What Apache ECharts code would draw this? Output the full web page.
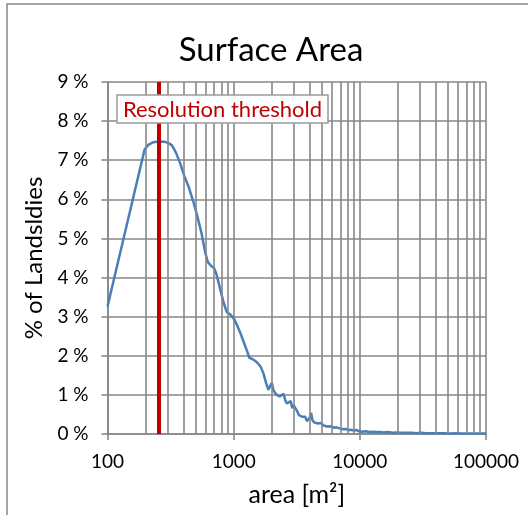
<!DOCTYPE html>
<html>
<head>
<meta charset="utf-8">
<script src="https://cdn.jsdelivr.net/npm/echarts@6/dist/echarts.min.js"></script>
<style>
  html, body { margin: 0; padding: 0; background: #fff; }
  #chart { width: 528px; height: 515px; }
</style>
</head>
<body>
<div id="chart"></div>
<script>
// Landslide surface-area distribution (share of landslides per area bin)
const areaBins = [
  100, 197, 212, 231, 256, 285, 304, 324, 348, 377, 411, 440, 478, 517, 555, 594, 623,
  661, 700, 728, 776, 834, 882, 930, 968, 1016, 1064, 1140, 1217, 1284, 1331, 1398,
  1465, 1541, 1636, 1722, 1808, 1884, 1941, 2008, 2065, 2141, 2226, 2321, 2406, 2482,
  2567, 2643, 2728, 2832, 2917, 2992, 3077, 3171, 3275, 3369, 3482, 3595, 3689, 3802,
  3915, 4018, 4112, 4206, 4337, 4469, 4610, 4750, 4938, 5126, 5314, 5502, 5690, 5877,
  6064, 6251, 6532, 6812, 7092, 7372, 7746, 8119, 8492, 8958, 9420, 9880, 10350,
  11100, 11850, 12700, 13600, 14500, 15400, 16800, 18200, 19600, 21400, 23300, 25600,
  27900, 30600, 33400, 37100, 41700, 46300, 51800, 58200, 64600, 73800, 83000, 92100, 100000
];
const landslidePct = [
  3.26, 7.28, 7.40, 7.46, 7.48, 7.47, 7.44, 7.38, 7.20, 6.92, 6.55, 6.32, 5.95, 5.55, 5.15, 4.65, 4.40,
  4.30, 4.24, 4.10, 3.75, 3.35, 3.12, 3.07, 3.01, 2.92, 2.78, 2.55, 2.30, 2.10, 1.95, 1.92,
  1.88, 1.82, 1.72, 1.55, 1.30, 1.13, 1.17, 1.31, 1.12, 1.04, 0.99, 0.96, 1.00, 1.03,
  0.86, 0.78, 0.82, 0.84, 0.66, 0.74, 0.66, 0.60, 0.49, 0.53, 0.44, 0.40, 0.44, 0.33,
  0.29, 0.42, 0.54, 0.36, 0.30, 0.33, 0.27, 0.26, 0.28, 0.22, 0.20, 0.19, 0.23, 0.20,
  0.23, 0.16, 0.17, 0.15, 0.14, 0.12, 0.13, 0.10, 0.11, 0.09, 0.10, 0.07, 0.06,
  0.07, 0.05, 0.06, 0.05, 0.05, 0.04, 0.05, 0.03, 0.04, 0.03, 0.03, 0.03,
  0.02, 0.03, 0.02, 0.02, 0.02, 0.02, 0.01, 0.02, 0.01, 0.01, 0.01, 0.01, 0.01
];
// Intermediate log-decade grid positions (2..9 x 10^n)
const minorGridAreas = [
  200, 300, 400, 500, 600, 700, 800, 900,
  2000, 3000, 4000, 5000, 6000, 7000, 8000, 9000,
  20000, 30000, 40000, 50000, 60000, 70000, 80000, 90000
];
const resolutionThreshold = 254;
const thresholdLabel = 'Resolution threshold';

const FONT = 'Lato';
const GRID_COLOR = '#878787';

const chart = echarts.init(document.getElementById('chart'), null, { renderer: 'canvas' });

chart.setOption({
  animation: false,
  backgroundColor: '#fff',
  textStyle: { fontFamily: FONT },
  title: {
    text: 'Surface Area',
    left: 266, top: 29, textAlign: 'center',
    textStyle: { fontFamily: FONT, fontSize: 33, fontWeight: 'normal', color: '#000' }
  },
  grid: { left: 107.5, right: 42, top: 82, bottom: 81, containLabel: false },
  xAxis: {
    type: 'log', logBase: 10, min: 100, max: 100000,
    name: 'area [m²]', nameLocation: 'middle', nameGap: 48,
    nameTextStyle: { fontFamily: FONT, fontSize: 25, color: '#000' },
    axisLine: { show: true, lineStyle: { color: GRID_COLOR, width: 1.6 } },
    axisTick: { show: true, length: 6, lineStyle: { color: GRID_COLOR, width: 1.6 } },
    axisLabel: {
      margin: 18, fontFamily: FONT, fontSize: 19, color: '#000',
      formatter: v => String(Math.round(v))
    },
    splitLine: { show: true, lineStyle: { color: GRID_COLOR, width: 1.6 } },
    minorTick: { show: false }, minorSplitLine: { show: false }
  },
  yAxis: {
    type: 'value', min: 0, max: 9, interval: 1,
    name: '% of Landsldies', nameLocation: 'middle', nameGap: 60, nameRotate: 90,
    nameTextStyle: { fontFamily: FONT, fontSize: 24, color: '#000' },
    axisLine: { show: true, lineStyle: { color: GRID_COLOR, width: 1.6 } },
    axisTick: { show: true, length: 6, lineStyle: { color: GRID_COLOR, width: 1.6 } },
    axisLabel: {
      margin: 19, fontFamily: FONT, fontSize: 19, color: '#000',
      formatter: v => v + ' %'
    },
    splitLine: { show: true, lineStyle: { color: GRID_COLOR, width: 1.6 } }
  },
  series: [
    {
      // intermediate vertical gridlines
      type: 'line', data: [], silent: true, z: 1,
      markLine: {
        silent: true, symbol: ['none', 'none'], animation: false,
        label: { show: false },
        lineStyle: { type: 'solid', color: GRID_COLOR, width: 1.6 },
        data: minorGridAreas.map(v => ({ xAxis: v }))
      }
    },
    {
      name: 'Landslides', type: 'line', z: 3,
      data: areaBins.map((a, i) => [a, landslidePct[i]]),
      showSymbol: false, symbol: 'none',
      lineStyle: { color: '#4a7ebb', width: 2.5 },
      itemStyle: { color: '#4a7ebb' }
    },
    {
      // resolution threshold marker
      type: 'line', data: [], silent: true, z: 4,
      markLine: {
        silent: true, symbol: ['none', 'none'], animation: false,
        label: { show: false },
        lineStyle: { type: 'solid', color: '#c00000', width: 4 },
        data: [{ xAxis: resolutionThreshold }]
      }
    }
  ],
  graphic: [
    {
      type: 'rect', z: 0, silent: true,
      shape: { x: 7, y: 4, width: 540, height: 530 },
      style: { fill: 'none', stroke: '#868686', lineWidth: 1.5 }
    },
    {
      type: 'rect', z: 10, silent: true,
      shape: { x: 117, y: 95, width: 211, height: 28 },
      style: { fill: '#fff', stroke: '#9a9a9a', lineWidth: 1.5 }
    },
    {
      type: 'text', z: 11, silent: true,
      x: 222.5, y: 109.5,
      style: {
        text: thresholdLabel, fill: '#c00000',
        font: '22px ' + FONT, textAlign: 'center', textVerticalAlign: 'middle'
      }
    }
  ]
});
</script>
</body>
</html>
